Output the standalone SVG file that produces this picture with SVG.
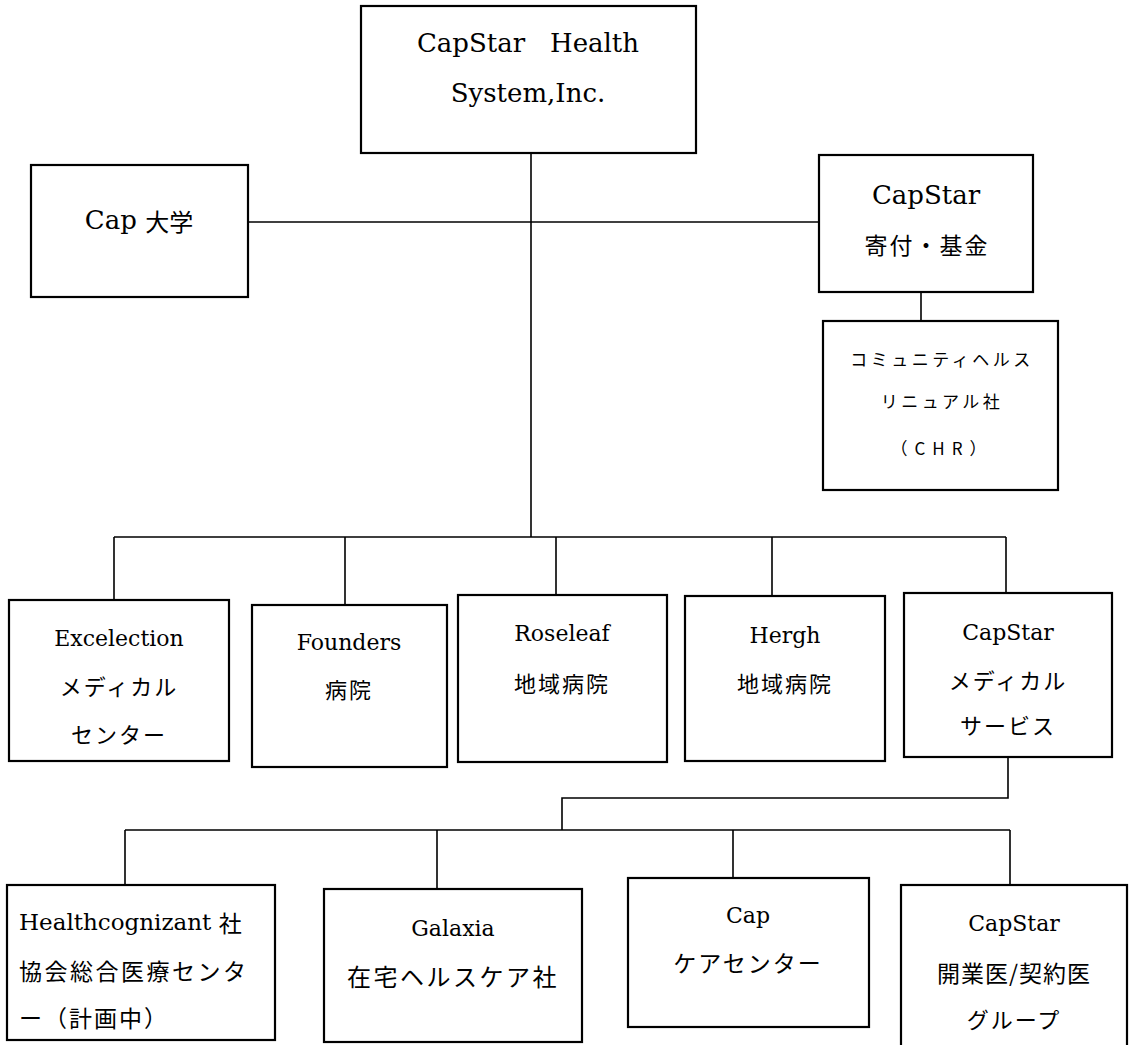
<svg xmlns="http://www.w3.org/2000/svg" width="1133" height="1045" viewBox="0 0 1133 1045">
<style>
.box{fill:#fff;stroke:#000;stroke-width:2.2}
.con{fill:none;stroke:#000;stroke-width:1.6}
text{font-family:"DejaVu Serif","Noto Sans CJK JP",serif;fill:#000;text-anchor:middle;dominant-baseline:central}
.big{font-size:26px}
.mid{font-size:22px}
.jp{font-family:"Noto Sans CJK JP",sans-serif;font-size:22px;letter-spacing:2px}
.jp2{font-family:"Noto Sans CJK JP",sans-serif;font-size:23px;letter-spacing:2px}
.sm{font-family:"Noto Sans CJK JP",sans-serif;font-size:17px;letter-spacing:3.5px}
</style>
<rect width="1133" height="1045" fill="#fff"/>
<g id="connectors">
<path class="con" d="M531 153V537"/>
<path class="con" d="M248 222H819"/>
<path class="con" d="M921 292V321"/>
<path class="con" d="M114 537H1006M114 537V600M345 537V605M556 537V596M772 537V596M1006 537V593"/>
<path class="con" d="M1008 757V798H562V830"/>
<path class="con" d="M125 830H1010M125 830V885M437 830V889M733 830V878M1010 830V885"/>
</g>
<g id="capstar-health-system">
<rect class="box" x="361" y="6" width="335" height="147"/>
<text class="big" x="528" y="43" xml:space="preserve">CapStar   Health</text>
<text class="big" x="528" y="93">System,Inc.</text>
</g>
<g id="cap-university">
<rect class="box" x="31" y="165" width="217" height="132"/>
<text class="big" x="139" y="220">Cap <tspan style="font-family:'Noto Sans CJK JP',sans-serif;font-size:24px">大学</tspan></text>
</g>
<g id="capstar-foundation">
<rect class="box" x="819" y="155" width="214" height="137"/>
<text class="big" x="926" y="195">CapStar</text>
<text class="jp2" x="927" y="244">寄付・基金</text>
</g>
<g id="chr">
<rect class="box" x="823" y="321" width="235" height="169"/>
<text class="sm" x="942" y="358">コミュニティヘルス</text>
<text class="sm" x="942" y="400">リニュアル社</text>
<text class="sm" x="942" y="447" style="letter-spacing:7px">（CHR）</text>
</g>
<g id="excelection">
<rect class="box" x="9" y="600" width="220" height="161"/>
<text class="mid" x="119" y="638">Excelection</text>
<text class="jp" x="119" y="685">メディカル</text>
<text class="jp" x="119" y="733">センター</text>
</g>
<g id="founders">
<rect class="box" x="252" y="605" width="195" height="162"/>
<text class="mid" x="349" y="642">Founders</text>
<text class="jp" x="349" y="688">病院</text>
</g>
<g id="roseleaf">
<rect class="box" x="458" y="595" width="209" height="167"/>
<text class="mid" x="562" y="633">Roseleaf</text>
<text class="jp" x="562" y="682">地域病院</text>
</g>
<g id="hergh">
<rect class="box" x="685" y="596" width="200" height="165"/>
<text class="mid" x="785" y="635">Hergh</text>
<text class="jp" x="785" y="682">地域病院</text>
</g>
<g id="capstar-medical">
<rect class="box" x="904" y="593" width="208" height="164"/>
<text class="mid" x="1008" y="632">CapStar</text>
<text class="jp" x="1008" y="679">メディカル</text>
<text class="jp" x="1008" y="724">サービス</text>
</g>
<g id="healthcognizant">
<rect class="box" x="7" y="885" width="268" height="155"/>
<text class="mid" x="19" y="922" style="text-anchor:start;font-size:23px">Healthcognizant <tspan style="font-family:'Noto Sans CJK JP',sans-serif">社</tspan></text>
<text class="jp" x="19" y="970" style="text-anchor:start;font-size:23px;letter-spacing:2.5px">協会総合医療センタ</text>
<text class="jp" x="19" y="1017" style="text-anchor:start;font-size:23px">ー（計画中）</text>
</g>
<g id="galaxia">
<rect class="box" x="324" y="889" width="258" height="153"/>
<text class="mid" x="453" y="928">Galaxia</text>
<text class="jp" x="453" y="975" style="font-size:24px;letter-spacing:2.5px">在宅ヘルスケア社</text>
</g>
<g id="cap-care">
<rect class="box" x="628" y="878" width="241" height="149"/>
<text class="mid" x="748" y="915">Cap</text>
<text class="jp" x="748" y="962" style="font-size:23px">ケアセンター</text>
</g>
<g id="capstar-group">
<rect class="box" x="901" y="885" width="226" height="170"/>
<text class="mid" x="1014" y="923">CapStar</text>
<text class="jp" x="1014" y="972" style="font-size:23px;letter-spacing:1px">開業医/契約医</text>
<text class="jp" x="1014" y="1018">グループ</text>
</g>
</svg>
